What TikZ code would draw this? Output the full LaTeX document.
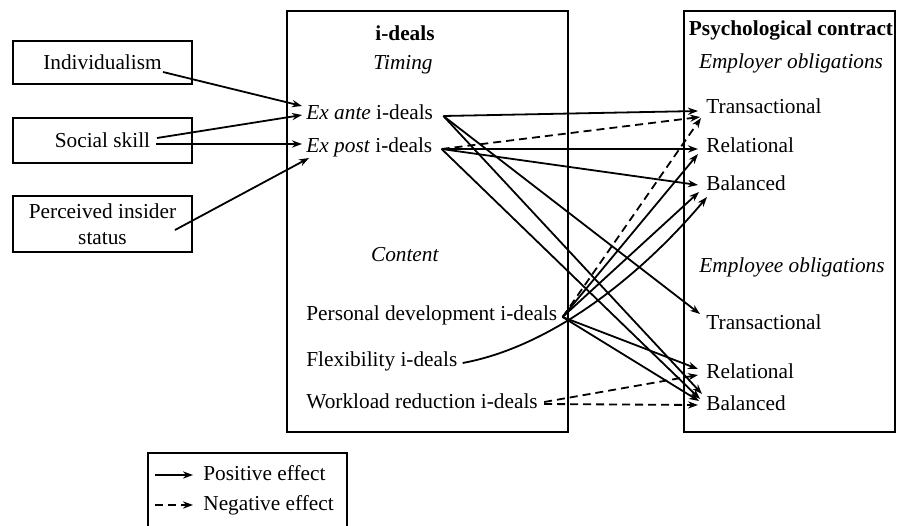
\documentclass[tikz,border=0pt]{standalone}
\usepackage{fontspec}
\setmainfont{Liberation Serif}
\usetikzlibrary{arrows.meta,calc}
\begin{document}
\begin{tikzpicture}[x=0.5pt,y=-0.5pt,
  every node/.style={font=\fontsize{10.65}{12.8}\selectfont, inner sep=0pt},
  frame/.style={draw, line width=1pt},
  inbox/.style={draw, line width=1pt, minimum width=89.5pt, align=center},
  lbl/.style={anchor=west, text height=1.6ex, text depth=0.3ex},
  posarr/.style={line width=0.9pt, -{Stealth[length=5pt,width=3.6pt]}},
  negarr/.style={posarr, dash pattern=on 4pt off 2.5pt},
]
\useasboundingbox (0,0) rectangle (898,525);

% left boxes
\node[inbox, minimum height=21.5pt] (ind) at (102.5,62.5) {Individualism};
\node[inbox, minimum height=22.5pt] (soc) at (102.5,140.5) {Social skill};
\node[inbox, minimum height=28pt] (pis) at (102.5,224) {Perceived insider\\status};

% frames
\node[frame, minimum width=140.5pt, minimum height=210.5pt] (ideals) at (427.5,221.5) {};
\node[frame, minimum width=105.5pt, minimum height=210.5pt] (pcbox) at (789.5,221.5) {};
\node[frame, minimum width=99.5pt, minimum height=39pt] (legend) at (247.5,492) {};

% centre texts
\node (ttl) at (405,33) {\textbf{i-deals}};
\node (timing) at (403,65) {\textit{Timing}};
\node[lbl] (exante) at (306,114) {\textit{Ex ante} i-deals};
\node[lbl] (expost) at (306,147) {\textit{Ex post} i-deals};
\node (content) at (405,255) {\textit{Content}};
\node[lbl] (pd) at (306,315) {Personal development i-deals};
\node[lbl] (flex) at (306,361) {Flexibility i-deals};
\node[lbl] (work) at (306,403) {Workload reduction i-deals};

% right texts
\node (pc) at (791,30) {\textbf{Psychological contract}};
\node (er) at (791,63) {\textit{Employer obligations}};
\node[lbl] (t1) at (706,108) {Transactional};
\node[lbl] (r1) at (706,147) {Relational};
\node[lbl] (b1) at (706,185) {Balanced};
\node (ee) at (792,267) {\textit{Employee obligations}};
\node[lbl] (t2) at (706,324) {Transactional};
\node[lbl] (r2) at (706,373) {Relational};
\node[lbl] (b2) at (706,405) {Balanced};

% antecedents
\draw[posarr] ($(ind.center)+(60.5,9.5)$) -- ($(exante.west)+(-4,-8)$);
\draw[posarr] ($(soc.center)+(54.5,-2.5)$) -- ($(exante.west)+(-4,1)$);
\draw[posarr] ($(soc.center)+(53.5,3.5)$) -- ($(expost.west)+(-4,-3)$);
\draw[posarr] ($(pis.center)+(72.5,6)$) -- ($(expost.west)+(3,11)$);

% ex ante
\draw[posarr] ($(exante.east)+(10,2)$) -- ($(t1.west)+(-8,3)$);
\draw[posarr] ($(exante.east)+(10,2)$) -- ($(t2.west)+(-6,-10)$);
\draw[posarr] ($(exante.east)+(10,2)$) -- ($(b2.west)+(-4,-11)$);

% ex post
\draw[posarr] ($(expost.east)+(9,2)$) -- ($(r1.west)+(-8,2)$);
\draw[negarr] ($(expost.east)+(9,2)$) -- ($(t1.west)+(-6,9)$);
\draw[posarr] ($(expost.east)+(9,2)$) -- ($(b1.west)+(-8,0)$);
\draw[posarr] ($(expost.east)+(9,2)$) -- ($(b2.west)+(-6,-6)$);

% personal development
\draw[negarr] ($(pd.east)+(5,2)$) -- ($(t1.west)+(-5,10)$);
\draw[posarr] ($(pd.east)+(5,2)$) -- ($(r1.west)+(-8,7)$);
\draw[posarr] ($(pd.east)+(5,2)$) -- ($(b1.west)+(-7,7)$);
\draw[posarr] ($(pd.east)+(5,2)$) -- ($(r2.west)+(-8,-4)$);
\draw[posarr] ($(pd.east)+(5,2)$) -- ($(b2.west)+(-7,-4)$);

% flexibility
\draw[posarr] ($(flex.east)+(5,2)$) .. controls +(97,-18) and +(-57,68) .. ($(b1.west)+(1,12)$);

% workload
\draw[negarr] ($(work.east)+(6,-1)$) -- ($(r2.west)+(-8,2)$);
\draw[negarr] ($(work.east)+(6,1)$) -- ($(b2.west)+(-8,0)$);

% legend
\node[lbl] (lpos) at (203,475) {Positive effect};
\node[lbl] (lneg) at (203,505) {Negative effect};
\coordinate (lposs) at (155,475);
\coordinate (lnegs) at (155,505);
\draw[posarr] (lposs) -- ($(lpos.west)+(-10,0)$);
\draw[negarr] (lnegs) -- ($(lneg.west)+(-10,0)$);
\end{tikzpicture}
\end{document}
